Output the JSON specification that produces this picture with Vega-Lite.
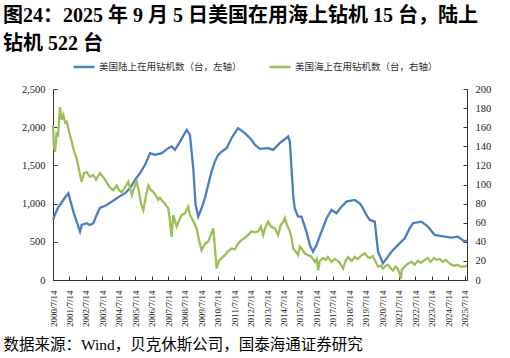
{
  "$schema": "https://vega.github.io/schema/vega-lite/v6.json",
  "width": 414,
  "height": 191,
  "autosize": "none",
  "padding": {"left": 53, "top": 89, "right": 43, "bottom": 78},
  "background": "white",
  "title": {
    "text": ["图24：2025 年 9 月 5 日美国在用海上钻机 15 台，陆上", "钻机 522 台"],
    "anchor": "start",
    "frame": "group",
    "dx": -50,
    "font": "Liberation Serif, Noto Sans CJK SC",
    "fontSize": 20,
    "fontWeight": "bold",
    "color": "#000000",
    "lineHeight": 28,
    "offset": 1
  },
  "config": {
    "view": {"stroke": null},
    "axis": {
      "labelFont": "Liberation Serif",
      "labelColor": "#222222",
      "domainColor": "#333333",
      "tickColor": "#333333",
      "grid": false
    }
  },
  "datasets": {
    "land": [
      {"date": "2000-07-14", "v": 790}, {"date": "2000-09-13", "v": 880}, {"date": "2000-11-07", "v": 950}, {"date": "2000-12-16", "v": 982},
      {"date": "2001-03-13", "v": 1060}, {"date": "2001-06-20", "v": 1136}, {"date": "2001-10-08", "v": 895}, {"date": "2001-12-23", "v": 764},
      {"date": "2002-03-05", "v": 633}, {"date": "2002-04-11", "v": 720}, {"date": "2002-07-29", "v": 743}, {"date": "2002-10-11", "v": 720},
      {"date": "2002-12-27", "v": 743}, {"date": "2003-03-09", "v": 852}, {"date": "2003-05-21", "v": 943}, {"date": "2003-10-19", "v": 982},
      {"date": "2004-02-07", "v": 1026}, {"date": "2004-05-28", "v": 1070}, {"date": "2004-11-28", "v": 1136}, {"date": "2005-03-16", "v": 1201},
      {"date": "2005-07-08", "v": 1310}, {"date": "2005-10-26", "v": 1398}, {"date": "2006-02-14", "v": 1507}, {"date": "2006-06-05", "v": 1660},
      {"date": "2006-09-23", "v": 1638}, {"date": "2007-02-21", "v": 1660}, {"date": "2007-07-15", "v": 1725}, {"date": "2007-09-27", "v": 1747},
      {"date": "2007-12-09", "v": 1703}, {"date": "2008-04-01", "v": 1812}, {"date": "2008-08-25", "v": 1965}, {"date": "2008-11-07", "v": 1900},
      {"date": "2009-01-19", "v": 1463}, {"date": "2009-03-13", "v": 982}, {"date": "2009-05-10", "v": 829}, {"date": "2009-07-22", "v": 939},
      {"date": "2009-10-04", "v": 1070}, {"date": "2009-12-16", "v": 1245}, {"date": "2010-03-02", "v": 1419}, {"date": "2010-05-14", "v": 1550},
      {"date": "2010-07-26", "v": 1638}, {"date": "2010-10-11", "v": 1681}, {"date": "2011-01-29", "v": 1725}, {"date": "2011-05-17", "v": 1856},
      {"date": "2011-10-11", "v": 1987}, {"date": "2012-03-09", "v": 1922}, {"date": "2012-08-07", "v": 1834}, {"date": "2012-10-19", "v": 1769},
      {"date": "2013-02-07", "v": 1716}, {"date": "2013-08-07", "v": 1725}, {"date": "2013-11-28", "v": 1703}, {"date": "2014-04-22", "v": 1791},
      {"date": "2014-10-26", "v": 1878}, {"date": "2014-12-02", "v": 1812}, {"date": "2015-01-08", "v": 1463}, {"date": "2015-02-14", "v": 1114},
      {"date": "2015-03-20", "v": 939}, {"date": "2015-06-02", "v": 829}, {"date": "2015-08-17", "v": 829}, {"date": "2015-12-05", "v": 633},
      {"date": "2016-02-17", "v": 459}, {"date": "2016-04-29", "v": 371}, {"date": "2016-07-15", "v": 459}, {"date": "2016-11-03", "v": 633},
      {"date": "2017-02-25", "v": 808}, {"date": "2017-06-13", "v": 917}, {"date": "2017-10-01", "v": 873}, {"date": "2018-01-22", "v": 960},
      {"date": "2018-05-10", "v": 1026}, {"date": "2018-11-10", "v": 1048}, {"date": "2019-03-02", "v": 1004}, {"date": "2019-05-14", "v": 939},
      {"date": "2019-07-26", "v": 852}, {"date": "2019-10-11", "v": 786}, {"date": "2020-01-29", "v": 764}, {"date": "2020-04-11", "v": 371},
      {"date": "2020-07-29", "v": 218}, {"date": "2021-02-03", "v": 371}, {"date": "2021-06-27", "v": 459}, {"date": "2021-11-25", "v": 546},
      {"date": "2022-03-13", "v": 677}, {"date": "2022-05-25", "v": 743}, {"date": "2022-11-28", "v": 764}, {"date": "2023-04-22", "v": 698},
      {"date": "2023-09-20", "v": 590}, {"date": "2024-04-29", "v": 568}, {"date": "2024-09-23", "v": 555}, {"date": "2025-02-17", "v": 568},
      {"date": "2025-07-15", "v": 502}, {"date": "2025-09-05", "v": 522}
    ],
    "offshore": [
      {"date": "2000-07-14", "v": 162}, {"date": "2000-08-05", "v": 140}, {"date": "2000-08-28", "v": 134}, {"date": "2000-10-04", "v": 155},
      {"date": "2000-11-02", "v": 150}, {"date": "2000-12-16", "v": 181}, {"date": "2001-01-22", "v": 168}, {"date": "2001-02-28", "v": 173},
      {"date": "2001-04-07", "v": 165}, {"date": "2001-05-16", "v": 166}, {"date": "2001-07-06", "v": 155}, {"date": "2001-09-02", "v": 145},
      {"date": "2001-10-23", "v": 135}, {"date": "2001-12-24", "v": 127}, {"date": "2002-02-13", "v": 115}, {"date": "2002-04-11", "v": 103},
      {"date": "2002-06-02", "v": 112}, {"date": "2002-07-31", "v": 113}, {"date": "2002-10-11", "v": 108}, {"date": "2002-12-27", "v": 110},
      {"date": "2003-02-24", "v": 105}, {"date": "2003-05-21", "v": 112}, {"date": "2003-07-27", "v": 108}, {"date": "2003-09-13", "v": 105},
      {"date": "2003-12-10", "v": 98}, {"date": "2004-03-13", "v": 94}, {"date": "2004-05-28", "v": 99}, {"date": "2004-07-19", "v": 94},
      {"date": "2004-09-16", "v": 92}, {"date": "2004-11-28", "v": 97}, {"date": "2005-02-10", "v": 103}, {"date": "2005-04-28", "v": 89},
      {"date": "2005-06-13", "v": 96}, {"date": "2005-08-14", "v": 103}, {"date": "2005-10-05", "v": 92}, {"date": "2005-11-18", "v": 80},
      {"date": "2006-01-08", "v": 73}, {"date": "2006-03-07", "v": 88}, {"date": "2006-04-28", "v": 99}, {"date": "2006-06-29", "v": 94},
      {"date": "2006-08-19", "v": 92}, {"date": "2006-10-16", "v": 88}, {"date": "2006-12-06", "v": 84}, {"date": "2007-01-12", "v": 86},
      {"date": "2007-03-18", "v": 82}, {"date": "2007-05-04", "v": 80}, {"date": "2007-07-15", "v": 75}, {"date": "2007-08-21", "v": 62},
      {"date": "2007-09-27", "v": 45}, {"date": "2007-11-03", "v": 68}, {"date": "2008-01-19", "v": 56}, {"date": "2008-03-09", "v": 62},
      {"date": "2008-05-07", "v": 68}, {"date": "2008-07-19", "v": 70}, {"date": "2008-09-30", "v": 77}, {"date": "2008-11-07", "v": 68},
      {"date": "2008-12-16", "v": 65}, {"date": "2009-02-07", "v": 60}, {"date": "2009-04-05", "v": 54}, {"date": "2009-05-25", "v": 42},
      {"date": "2009-07-22", "v": 31}, {"date": "2009-10-04", "v": 38}, {"date": "2009-12-16", "v": 40}, {"date": "2010-02-17", "v": 48},
      {"date": "2010-04-08", "v": 54}, {"date": "2010-05-14", "v": 35}, {"date": "2010-06-20", "v": 12}, {"date": "2010-08-10", "v": 20},
      {"date": "2010-10-11", "v": 23}, {"date": "2010-12-23", "v": 26}, {"date": "2011-02-28", "v": 30}, {"date": "2011-05-20", "v": 33},
      {"date": "2011-07-30", "v": 32}, {"date": "2011-10-08", "v": 38}, {"date": "2011-12-28", "v": 42}, {"date": "2012-03-09", "v": 44},
      {"date": "2012-05-16", "v": 47}, {"date": "2012-08-07", "v": 51}, {"date": "2012-10-19", "v": 50}, {"date": "2013-01-01", "v": 51},
      {"date": "2013-02-28", "v": 56}, {"date": "2013-04-20", "v": 47}, {"date": "2013-06-07", "v": 55}, {"date": "2013-08-07", "v": 61},
      {"date": "2013-10-08", "v": 56}, {"date": "2014-01-04", "v": 54}, {"date": "2014-03-18", "v": 47}, {"date": "2014-05-16", "v": 58},
      {"date": "2014-07-01", "v": 60}, {"date": "2014-08-14", "v": 65}, {"date": "2014-09-27", "v": 58}, {"date": "2014-12-02", "v": 51},
      {"date": "2015-01-04", "v": 45}, {"date": "2015-02-14", "v": 33}, {"date": "2015-04-12", "v": 30}, {"date": "2015-06-02", "v": 26},
      {"date": "2015-07-12", "v": 35}, {"date": "2015-08-17", "v": 33}, {"date": "2015-10-30", "v": 28}, {"date": "2016-01-11", "v": 26},
      {"date": "2016-03-10", "v": 25}, {"date": "2016-04-26", "v": 22}, {"date": "2016-06-09", "v": 19}, {"date": "2016-07-22", "v": 22},
      {"date": "2016-08-21", "v": 10}, {"date": "2016-09-27", "v": 20}, {"date": "2016-12-09", "v": 23}, {"date": "2017-02-10", "v": 21},
      {"date": "2017-03-25", "v": 24}, {"date": "2017-06-13", "v": 19}, {"date": "2017-08-25", "v": 22}, {"date": "2017-10-30", "v": 20},
      {"date": "2017-12-13", "v": 18}, {"date": "2018-02-25", "v": 12}, {"date": "2018-04-22", "v": 20}, {"date": "2018-06-13", "v": 24},
      {"date": "2018-09-06", "v": 20}, {"date": "2018-11-10", "v": 24}, {"date": "2019-01-15", "v": 22}, {"date": "2019-03-20", "v": 25},
      {"date": "2019-06-20", "v": 28}, {"date": "2019-08-25", "v": 24}, {"date": "2019-10-11", "v": 23}, {"date": "2019-12-16", "v": 25},
      {"date": "2020-01-29", "v": 21}, {"date": "2020-04-11", "v": 14}, {"date": "2020-06-09", "v": 15}, {"date": "2020-07-29", "v": 12},
      {"date": "2020-10-01", "v": 15}, {"date": "2020-11-21", "v": 16}, {"date": "2021-01-19", "v": 12}, {"date": "2021-03-09", "v": 10},
      {"date": "2021-05-07", "v": 14}, {"date": "2021-06-20", "v": 12}, {"date": "2021-08-07", "v": 6}, {"date": "2021-08-29", "v": 1},
      {"date": "2021-09-20", "v": 11}, {"date": "2021-11-25", "v": 14}, {"date": "2022-01-30", "v": 17}, {"date": "2022-04-20", "v": 19},
      {"date": "2022-07-05", "v": 16}, {"date": "2022-09-09", "v": 20}, {"date": "2022-11-14", "v": 18}, {"date": "2023-02-10", "v": 21},
      {"date": "2023-04-22", "v": 23}, {"date": "2023-06-24", "v": 19}, {"date": "2023-08-29", "v": 23}, {"date": "2023-11-03", "v": 21},
      {"date": "2024-01-08", "v": 22}, {"date": "2024-03-17", "v": 19}, {"date": "2024-05-22", "v": 21}, {"date": "2024-07-27", "v": 18},
      {"date": "2024-09-23", "v": 16}, {"date": "2024-12-06", "v": 15}, {"date": "2025-02-10", "v": 16}, {"date": "2025-04-16", "v": 14},
      {"date": "2025-07-15", "v": 14}, {"date": "2025-09-05", "v": 15}
    ]
  },
  "encoding": {
    "x": {
      "field": "date",
      "type": "temporal",
      "scale": {"type": "utc", "domain": [{"year": 2000, "month": 7, "date": 14, "utc": true}, {"year": 2025, "month": 9, "date": 5, "utc": true}]},
      "axis": {
        "values": [
          {"year": 2000, "month": 7, "date": 14, "utc": true}, {"year": 2001, "month": 7, "date": 14, "utc": true},
          {"year": 2002, "month": 7, "date": 14, "utc": true}, {"year": 2003, "month": 7, "date": 14, "utc": true},
          {"year": 2004, "month": 7, "date": 14, "utc": true}, {"year": 2005, "month": 7, "date": 14, "utc": true},
          {"year": 2006, "month": 7, "date": 14, "utc": true}, {"year": 2007, "month": 7, "date": 14, "utc": true},
          {"year": 2008, "month": 7, "date": 14, "utc": true}, {"year": 2009, "month": 7, "date": 14, "utc": true},
          {"year": 2010, "month": 7, "date": 14, "utc": true}, {"year": 2011, "month": 7, "date": 14, "utc": true},
          {"year": 2012, "month": 7, "date": 14, "utc": true}, {"year": 2013, "month": 7, "date": 14, "utc": true},
          {"year": 2014, "month": 7, "date": 14, "utc": true}, {"year": 2015, "month": 7, "date": 14, "utc": true},
          {"year": 2016, "month": 7, "date": 14, "utc": true}, {"year": 2017, "month": 7, "date": 14, "utc": true},
          {"year": 2018, "month": 7, "date": 14, "utc": true}, {"year": 2019, "month": 7, "date": 14, "utc": true},
          {"year": 2020, "month": 7, "date": 14, "utc": true}, {"year": 2021, "month": 7, "date": 14, "utc": true},
          {"year": 2022, "month": 7, "date": 14, "utc": true}, {"year": 2023, "month": 7, "date": 14, "utc": true},
          {"year": 2024, "month": 7, "date": 14, "utc": true}, {"year": 2025, "month": 7, "date": 14, "utc": true}
        ],
        "labelExpr": "utcFormat(datum.value, '%Y/%-m/%-d')",
        "labelAngle": 270,
        "labelFontSize": 9,
        "labelPadding": 14,
        "tickSize": -4,
        "labelOverlap": false,
        "title": "数据来源：Wind，贝克休斯公司，国泰海通证券研究",
        "titleFont": "Liberation Serif, Noto Sans CJK SC",
        "titleFontSize": 15.5,
        "titleFontWeight": "normal",
        "titleColor": "#000000",
        "titleAnchor": "start",
        "titleAlign": "left",
        "titleBaseline": "middle",
        "titleX": -50,
        "titleY": 64
      }
    }
  },
  "layer": [
    {
      "data": {"name": "land"},
      "mark": {"type": "line", "strokeWidth": 2.3},
      "encoding": {
        "y": {
          "field": "v",
          "type": "quantitative",
          "scale": {"domain": [0, 2500]},
          "axis": {
            "title": null,
            "values": [0, 500, 1000, 1500, 2000, 2500],
            "labelExpr": "format(datum.value, ',')",
            "labelFontSize": 10.5,
            "tickSize": -4,
            "labelPadding": 12
          }
        },
        "color": {
          "datum": "美国陆上在用钻机数（台，左轴）",
          "scale": {"domain": ["美国陆上在用钻机数（台，左轴）", "美国海上在用钻机数（台，右轴）"], "range": ["#4A7EC2", "#9DBE5A"]},
          "legend": {
            "title": null,
            "orient": "none",
            "direction": "horizontal",
            "legendX": 19,
            "legendY": -34,
            "symbolType": "stroke",
            "symbolSize": 441,
            "symbolStrokeWidth": 2.5,
            "labelFont": "Noto Sans CJK SC",
            "labelFontSize": 9.5,
            "labelColor": "#333333",
            "labelOffset": 3,
            "columnPadding": 22
          }
        }
      }
    },
    {
      "data": {"name": "offshore"},
      "mark": {"type": "line", "strokeWidth": 2.3},
      "encoding": {
        "y": {
          "field": "v",
          "type": "quantitative",
          "scale": {"domain": [0, 200]},
          "axis": {
            "title": null,
            "orient": "right",
            "values": [0, 20, 40, 60, 80, 100, 120, 140, 160, 180, 200],
            "labelFontSize": 10.5,
            "tickSize": -4,
            "labelPadding": 12
          }
        },
        "color": {"datum": "美国海上在用钻机数（台，右轴）"}
      }
    }
  ],
  "resolve": {"scale": {"y": "independent"}, "axis": {"y": "independent"}}
}
